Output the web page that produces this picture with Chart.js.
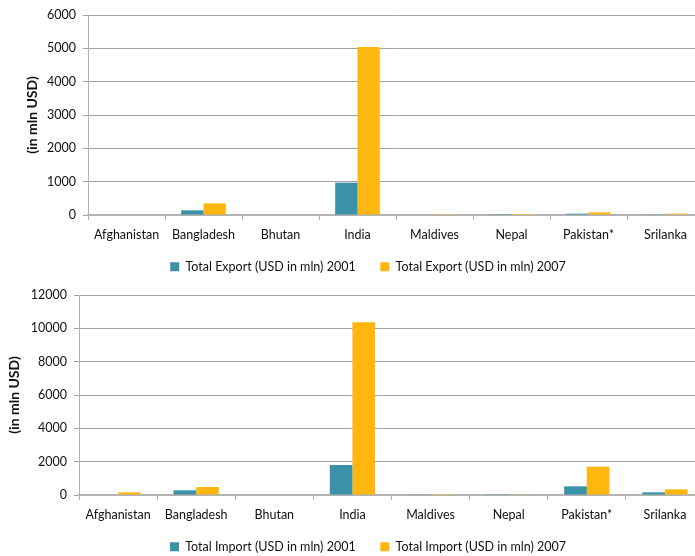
<!DOCTYPE html>
<html lang="en">
<head>
  <meta charset="UTF-8">
  <title>South Asia trade</title>
  <script src="https://cdn.jsdelivr.net/npm/chart.js"></script>
  <style>
    html, body {
      margin: 0;
      padding: 0;
      background: #fff;
      overflow: hidden;
      width: 695px;
      height: 556px;
    }
    .chart-box {
      position: absolute;
      left: 0;
      width: 706px;
      height: 290px;
    }
    #exportBox { top: 0; }
    #importBox { top: 280px; }
  </style>
</head>
<body>
  <div class="chart-box" id="exportBox"><canvas id="exportChart" width="706" height="290"></canvas></div>
  <div class="chart-box" id="importBox"><canvas id="importChart" width="706" height="290"></canvas></div>

  <script>
    const countries = ['Afghanistan', 'Bangladesh', 'Bhutan', 'India', 'Maldives', 'Nepal', 'Pakistan*', 'Srilanka'];

    const export2001 = [0, 140, 0, 970, 0, 3, 40, 20];
    const export2007 = [0, 350, 0, 5040, 5, 30, 80, 40];
    const exportTicks = [0, 1000, 2000, 3000, 4000, 5000, 6000];

    const import2001 = [0, 280, 0, 1800, 20, 10, 520, 160];
    const import2007 = [160, 480, 0, 10360, 50, 40, 1700, 340];
    const importTicks = [0, 2000, 4000, 6000, 8000, 10000, 12000];

    const TEAL = '#3b91a7';
    const GOLD = '#ffb70f';
    const FONT = 'Lato, "Open Sans", sans-serif';

    // nudge the legend sideways after layout
    const legendShift = {
      id: 'legendShift',
      afterLayout(chart, args, opts) {
        const l = chart.legend;
        l.left += opts.dx; l.right += opts.dx;
      }
    };

    // wider gap after the first legend entry
    function legendItems(chart) {
      const items = Chart.defaults.plugins.legend.labels.generateLabels(chart);
      items[0].text += '\u2003\u2003';
      return items;
    }

    function makeChart(id, labels2001, labels2007, d2001, d2007, ticks, axisWidth, titlePad) {
      new Chart(document.getElementById(id), {
        type: 'bar',
        data: {
          labels: countries,
          datasets: [
            { label: labels2001, data: d2001, backgroundColor: TEAL },
            { label: labels2007, data: d2007, backgroundColor: GOLD }
          ]
        },
        plugins: [legendShift],
        options: {
          responsive: false,
          animation: false,
          layout: { padding: { top: 15, right: 2, bottom: 7, left: 0 } },
          datasets: { bar: { categoryPercentage: 0.58, barPercentage: 1.0 } },
          scales: {
            x: {
              grid: {
                offset: true,
                drawOnChartArea: false,
                tickLength: 5,
                color: '#b3b3b3',
                lineWidth: 1
              },
              border: { color: '#b3b3b3', width: 2 },
              ticks: {
                color: '#111',
                padding: 7,
                font: { family: FONT, size: 12.5 },
                maxRotation: 0
              },
              afterFit: s => { s.height = 39.5; }
            },
            y: {
              min: ticks[0],
              max: ticks[ticks.length - 1],
              ticks: {
                stepSize: ticks[1] - ticks[0],
                color: '#111',
                padding: 7,
                font: { family: FONT, size: 12.5 },
                callback: v => String(v)
              },
              grid: { color: '#a3a3a3', tickLength: 5, lineWidth: 1 },
              border: { color: '#b3b3b3', width: 1 },
              title: {
                display: true,
                text: '(in mln USD)',
                color: '#111',
                font: { family: FONT, size: 14, weight: 'bold' },
                padding: { top: titlePad, bottom: 0 }
              },
              afterFit: s => { s.width = axisWidth; }
            }
          },
          plugins: {
            legend: {
              position: 'bottom',
              labels: {
                boxWidth: 9,
                boxHeight: 9,
                padding: 6,
                color: '#111',
                font: { family: FONT, size: 12.5 },
                generateLabels: legendItems
              }
            },
            legendShift: { dx: 16 },
            tooltip: { enabled: false }
          }
        }
      });
    }

    makeChart('exportChart', 'Total Export (USD in mln) 2001', 'Total Export (USD in mln) 2007',
      export2001, export2007, exportTicks, 88, 24);
    makeChart('importChart', 'Total Import (USD in mln) 2001', 'Total Import (USD in mln) 2007',
      import2001, import2007, importTicks, 79, 6);
  </script>
</body>
</html>
